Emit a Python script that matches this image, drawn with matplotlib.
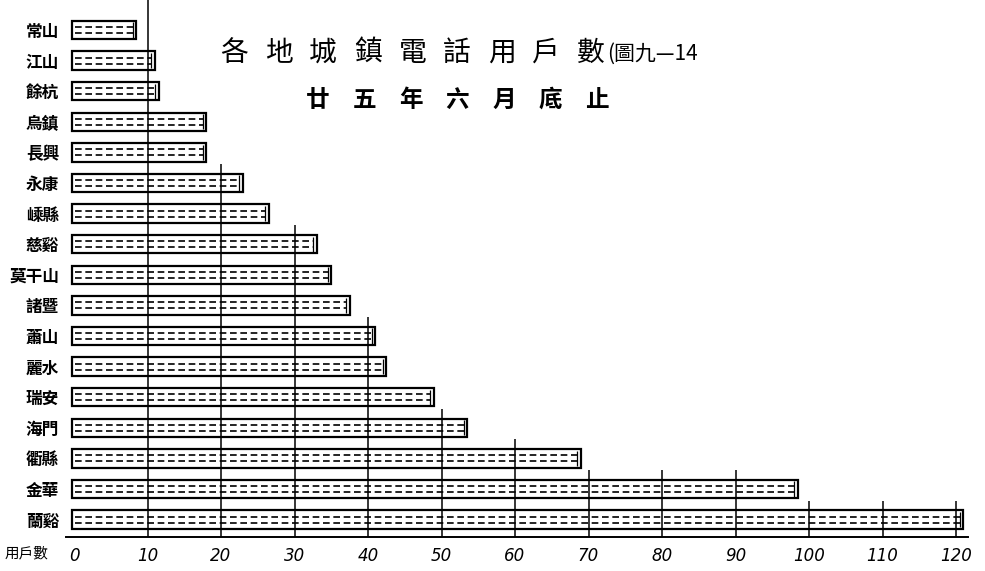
import matplotlib
matplotlib.use("Agg")
import matplotlib.pyplot as plt
import numpy as np

plt.rcParams['font.family'] = ['Noto Sans CJK TC', 'DejaVu Sans']

categories = ["常山", "江山", "餘杭", "烏鎮", "長興", "永康", "嵊縣", "慈谿", "莫干山",
              "諸暨", "蕭山", "麗水", "瑞安", "海門", "衢縣", "金華", "蘭谿"]
values = [8.5, 11, 11.5, 18, 18, 23, 26.5, 33, 35, 37.5, 41, 42.5, 49, 53.5, 69, 98.5, 121]
ticks = [0, 10, 20, 30, 40, 50, 60, 70, 80, 90, 100, 110, 120]
title_chars = list("各地城鎮電話用戶數")
title_suffix = "(圖九—14"
subtitle_chars = list("廿五年六月底止")
axis_label = "用戶數"

W, H = 985, 571
fig = plt.figure(figsize=(W / 100, H / 100), dpi=100)
fig.patch.set_facecolor("white")

# axes placement in pixels
left_px, right_px = 66, 972
top_px, bottom_px = 0, 537
ax = fig.add_axes([left_px / W, (H - bottom_px) / H, (right_px - left_px) / W, (bottom_px - top_px) / H])

ppu = 7.35          # pixels per unit
zero_px = 74
xmin = (left_px - zero_px) / ppu
xmax = (right_px - zero_px) / ppu
row0_px, row_pitch = 30, 30.6
ytop = (top_px - row0_px) / row_pitch
ybot = (bottom_px - row0_px) / row_pitch
ax.set_xlim(xmin, xmax)
ax.set_ylim(ybot, ytop)

y = np.arange(len(categories))
vals = np.array(values)
bh = 0.6
start = -0.3

ax.barh(y, vals - start, height=bh, left=start, color="white", edgecolor="black", lw=1.6, zorder=2)
for off in (-0.1, 0.1):
    ax.hlines(y + off, start + 0.5, vals - 0.4, color="black", lw=1.2,
              linestyles=(0, (4, 2.2)), zorder=3)
# small inner end marks
ax.vlines(vals - 0.5, y - bh / 2 + 0.05, y + bh / 2 - 0.05, color="black", lw=0.9, zorder=3)

# vertical grid lines rising from the bottom to just above the first bar crossing them
for t in ticks[1:]:
    k = next((i for i, v in enumerate(values) if v > t), len(values))
    top = ytop if k <= 1 else k - 0.62
    ax.vlines(t, top, ybot, color="black", lw=1.1, zorder=4)

for s in ["top", "right", "left"]:
    ax.spines[s].set_visible(False)
ax.spines["bottom"].set_linewidth(1.4)
ax.spines["bottom"].set_bounds(xmin, xmax - 0.6)
ax.set_xticks(ticks)
ax.set_xticklabels([str(t) for t in ticks], fontsize=12, style="italic", family="DejaVu Sans")
ax.tick_params(axis="x", length=0, pad=7)
ax.set_yticks(y)
ax.set_yticklabels(categories, fontsize=12, fontweight="bold")
ax.tick_params(axis="y", length=0, pad=5)

fig.text(5 / W, 1 - 553 / H, axis_label, fontsize=10.5, style="italic", va="center", ha="left")

# title, character by character
for i, ch in enumerate(title_chars):
    fig.text((234 + 44.6 * i) / W, 1 - 53 / H, ch, fontsize=20, ha="center", va="center",
             fontweight="light")
fig.text(607 / W, 1 - 54 / H, title_suffix, fontsize=15, ha="left", va="center", fontweight="light")
for i, ch in enumerate(subtitle_chars):
    fig.text((318 + 46.5 * i) / W, 1 - 100 / H, ch, fontsize=17, ha="center", va="center",
             fontweight="bold")

fig.savefig("out.png", dpi=100, facecolor="white")
